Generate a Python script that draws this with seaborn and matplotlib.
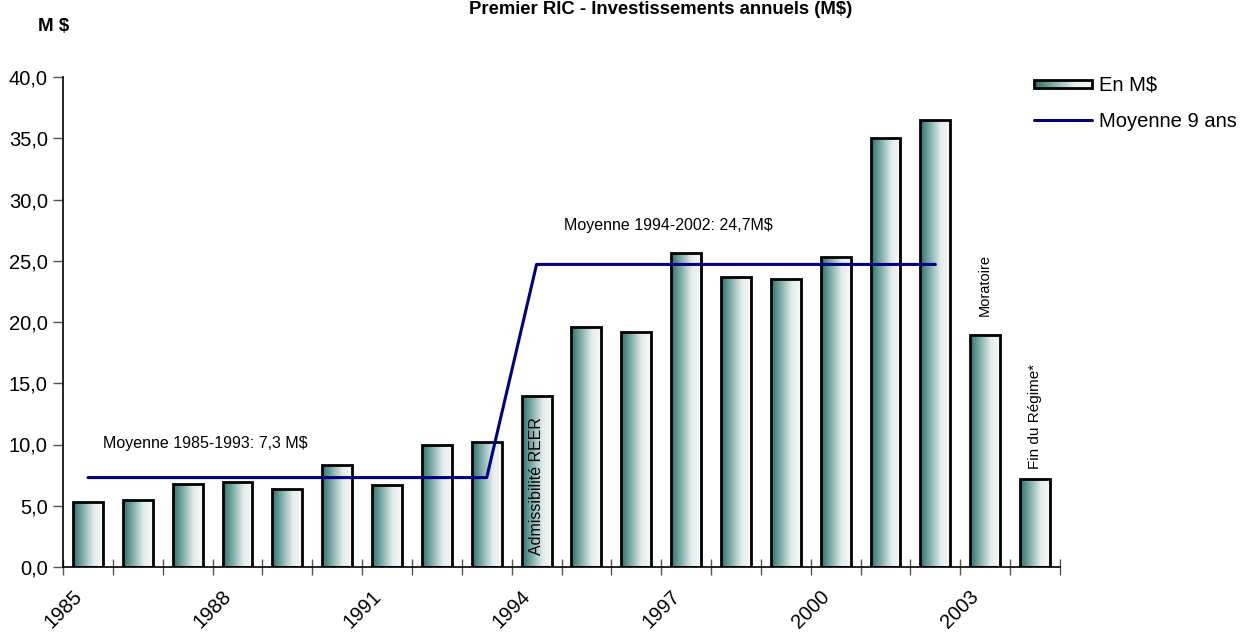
import numpy as np
import pandas as pd
import matplotlib
matplotlib.use("Agg")
import matplotlib.pyplot as plt
import seaborn as sns
from matplotlib.colors import LinearSegmentedColormap
from matplotlib.patches import Rectangle
from matplotlib.lines import Line2D
from matplotlib.legend_handler import HandlerBase
from matplotlib.ticker import FuncFormatter

# Annual investments (M$) and the 9-year averages
years = [str(y) for y in range(1985, 2005)]
investments = [5.3, 5.5, 6.8, 6.9, 6.4, 8.3, 6.7, 10.0, 10.2,
               14.0, 19.6, 19.2, 25.6, 23.7, 23.5, 25.3, 35.0, 36.5,
               18.9, 7.2]
average_9y = [7.3] * 9 + [24.7] * 9 + [np.nan, np.nan]
tick_years = [str(1985 + i) if i % 3 == 0 else "" for i in range(21)]

title = "Premier RIC - Investissements annuels (M$)"
avg_label_1 = "Moyenne 1985-1993: 7,3 M$"
avg_label_2 = "Moyenne 1994-2002: 24,7M$"

df = pd.DataFrame({"annee": years, "montant": investments,
                   "moyenne": average_9y, "pos": np.arange(len(years))})

sns.set_style("white")
plt.rcParams["font.family"] = ["Liberation Sans", "DejaVu Sans"]
plt.rcParams["text.color"] = "black"
plt.rcParams["xtick.labelcolor"] = "black"
plt.rcParams["ytick.labelcolor"] = "black"

teal_cmap = LinearSegmentedColormap.from_list(
    "teal_fade", [(0.0, "#28726e"), (0.35, "#86b0ae"), (0.7, "#e5eded"), (1.0, "#f6f8f8")])

fig = plt.figure(figsize=(12.42, 6.32), dpi=100)
ax = fig.add_axes([63 / 1242, 1 - 567 / 632, (1060 - 63) / 1242, (567 - 77) / 632])

sns.barplot(data=df, x="annee", y="montant", ax=ax, width=0.6,
            color="white", edgecolor="black", linewidth=2.0, saturation=1)

# Horizontal teal-to-white gradient inside every bar
grad = np.linspace(0, 1, 256).reshape(1, -1)
for bar in list(ax.patches):
    x0, y0 = bar.get_x(), bar.get_y()
    w, h = bar.get_width(), bar.get_height()
    bar.set_facecolor("none")
    bar.set_zorder(3)
    im = ax.imshow(grad, extent=[x0, x0 + w, y0, y0 + h], aspect="auto",
                   cmap=teal_cmap, origin="lower", zorder=2, interpolation="bilinear")
    im.set_clip_path(bar)

sns.lineplot(data=df, x="pos", y="moyenne", ax=ax, color="#000080",
             linewidth=2.2, sort=False, estimator=None, zorder=4)

ax.set_xlim(-0.5, len(years) - 0.5)
ax.set_ylim(0, 40)
ax.set_xlabel("")
ax.set_ylabel("")

# Ticks sit on the category boundaries
ax.set_xticks(np.arange(-0.5, len(years) + 0.5, 1))
ax.set_xticklabels(tick_years, rotation=45, ha="center", va="top", fontsize=14.5)
ax.set_yticks(np.arange(0, 41, 5))
ax.yaxis.set_major_formatter(FuncFormatter(lambda v, _: f"{v:.1f}".replace(".", ",")))
ax.tick_params(axis="x", bottom=True, direction="inout", length=12, width=1.0,
               color="#555555", pad=8)
ax.tick_params(axis="y", left=True, direction="out", length=7, width=1.0, color="#555555",
               labelsize=14.5, pad=4)

for side in ("top", "right"):
    ax.spines[side].set_visible(False)
for side in ("left", "bottom"):
    ax.spines[side].set_color("black")
    ax.spines[side].set_linewidth(1.2)
ax.grid(False)

# Annotations
ax.text(0.3, 10.1, avg_label_1, fontsize=11.5, ha="left", va="center")
ax.text(9.56, 27.9, avg_label_2, fontsize=11.5, ha="left", va="center")
ax.text(9, 1.0, "Admissibilité REER", rotation=90, fontsize=11.5,
        ha="center", va="bottom", zorder=5)
ax.text(18, investments[18] + 1.6, "Moratoire", rotation=90, fontsize=10.5,
        ha="center", va="bottom")
ax.text(19, investments[19] + 0.8, "Fin du Régime*", rotation=90, fontsize=11,
        ha="center", va="bottom")

fig.text(661 / 1242, 1 - 14 / 632, title, fontsize=13.3, fontweight="bold",
         ha="center", va="baseline")
fig.text(38 / 1242, 1 - 31 / 632, "M $", fontsize=13.5, fontweight="bold",
         ha="left", va="baseline")


class GradientBoxHandler(HandlerBase):
    def create_artists(self, legend, orig_handle, xdescent, ydescent,
                       width, height, fontsize, trans):
        artists = []
        hh = height * 0.55
        y0 = -ydescent + (height - hh) / 2
        n = 40
        for i in range(n):
            artists.append(Rectangle((-xdescent + i * width / n, y0), width / n * 1.05, hh,
                                     facecolor=teal_cmap(i / (n - 1)), edgecolor="none",
                                     transform=trans))
        artists.append(Rectangle((-xdescent, y0), width, hh, fill=False,
                                 edgecolor="black", linewidth=2.0, transform=trans))
        return artists


bar_handle = Rectangle((0, 0), 1, 1)
line_handle = Line2D([0], [0], color="#000080", linewidth=2.2)
fig.legend([bar_handle, line_handle], ["En M$", "Moyenne 9 ans"],
           handler_map={Rectangle: GradientBoxHandler()},
           loc="upper left", bbox_to_anchor=(1034 / 1242, 1 - 76 / 632),
           frameon=False, fontsize=14.5, handlelength=2.9, handletextpad=0.35,
           labelspacing=0.85, borderpad=0, borderaxespad=0)

fig.savefig("out.png", dpi=100)
